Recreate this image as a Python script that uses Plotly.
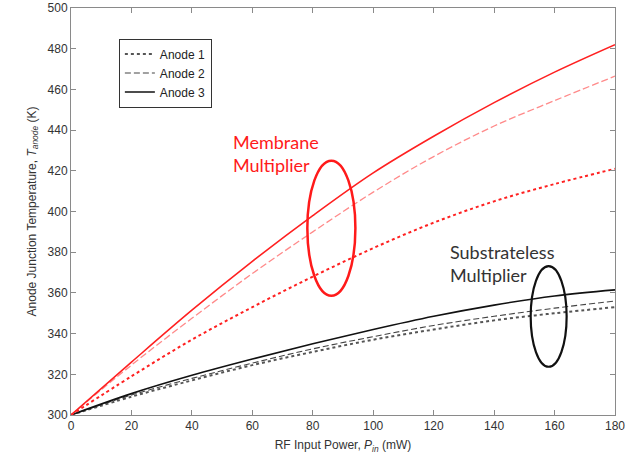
import plotly.graph_objects as go

power_mw = [0, 20, 40, 60, 80, 100, 120, 140, 160, 180]

# Membrane multiplier (red)
membrane_anode1 = [300, 319, 337, 353, 368, 382, 394.5, 405, 413.5, 421]
membrane_anode2 = [300, 324.5, 347.5, 369.5, 390, 409.5, 427, 442, 454.5, 466.5]
membrane_anode3 = [300, 326, 351.5, 375.5, 398, 419, 437, 453.5, 468.5, 482]

# Substrateless multiplier (black)
substrateless_anode1 = [300, 309, 317, 324.5, 331, 337, 342, 346.5, 350, 353]
substrateless_anode2 = [300, 309.8, 318, 325.5, 332.5, 338.5, 344, 348.5, 352.5, 356]
substrateless_anode3 = [300, 310.5, 319.5, 327.5, 335, 342, 348.5, 354, 358.5, 361.5]

legend_names = ["Anode 1", "Anode 2", "Anode 3"]
x_ticks = [0, 20, 40, 60, 80, 100, 120, 140, 160, 180]
y_ticks = [300, 320, 340, 360, 380, 400, 420, 440, 460, 480, 500]

# Ellipse annotations (data coordinates)
membrane_ellipse = dict(x0=78.2, x1=94.1, y0=358.6, y1=425.0)
substrateless_ellipse = dict(x0=152.1, x1=164.0, y0=323.7, y1=373.2)

fig = go.Figure()

# Black (substrateless) curves carry the legend
fig.add_trace(go.Scatter(x=power_mw, y=substrateless_anode1, mode="lines", name=legend_names[0],
                         line=dict(color="#555555", width=2, dash="dot", shape="spline")))
fig.add_trace(go.Scatter(x=power_mw, y=substrateless_anode2, mode="lines", name=legend_names[1],
                         line=dict(color="#444444", width=1.1, dash="6px,3px", shape="spline")))
fig.add_trace(go.Scatter(x=power_mw, y=substrateless_anode3, mode="lines", name=legend_names[2],
                         line=dict(color="#111111", width=1.6, shape="spline")))

# Red (membrane) curves
fig.add_trace(go.Scatter(x=power_mw, y=membrane_anode1, mode="lines", showlegend=False,
                         line=dict(color="#ff2020", width=2, dash="dot", shape="spline")))
fig.add_trace(go.Scatter(x=power_mw, y=membrane_anode2, mode="lines", showlegend=False,
                         line=dict(color="#ff8a8a", width=1.3, dash="7px,3px", shape="spline")))
fig.add_trace(go.Scatter(x=power_mw, y=membrane_anode3, mode="lines", showlegend=False,
                         line=dict(color="#ff2020", width=1.6, shape="spline")))

fig.add_shape(type="circle", xref="x", yref="y", **membrane_ellipse,
              line=dict(color="#ff1a1a", width=2.5))
fig.add_shape(type="circle", xref="x", yref="y", **substrateless_ellipse,
              line=dict(color="#111111", width=2.2))

fig.add_annotation(x=53.0, y=440.5, xref="x", yref="y", xanchor="left", yanchor="top",
                   text="Membrane<br>Multiplier", showarrow=False, align="left",
                   font=dict(family="Lato", size=18, color="#ff1a1a"))
fig.add_annotation(x=124.8, y=386.5, xref="x", yref="y", xanchor="left", yanchor="top",
                   text="Substrateless<br>Multiplier", showarrow=False, align="left",
                   font=dict(family="Lato", size=18, color="#333333"))

axis_common = dict(showgrid=False, zeroline=False, showline=True, linecolor="#8a8a8a", linewidth=1,
                   mirror="ticks", ticks="inside", ticklen=5, tickcolor="#8a8a8a", automargin=False,
                   tickfont=dict(family="Liberation Sans, Arial", size=12, color="#333333"))

fig.update_xaxes(range=[0, 180], tickvals=x_ticks,
                 title=dict(text="RF Input Power, <i>P</i><sub><i>in</i></sub> (mW)",
                            font=dict(family="Liberation Sans, Arial", size=12, color="#333333"),
                            standoff=8),
                 **axis_common)
fig.update_yaxes(range=[300, 500], tickvals=y_ticks,
                 title=dict(text="Anode Junction Temperature, <i>T</i><sub><i>anode</i></sub> (K)",
                            font=dict(family="Liberation Sans, Arial", size=12, color="#333333"),
                            standoff=8),
                 **axis_common)

fig.update_layout(
    width=644, height=464,
    margin=dict(l=71, r=29, t=8, b=49, autoexpand=False),
    paper_bgcolor="white", plot_bgcolor="white",
    showlegend=True,
    legend=dict(x=0.088, y=0.925, xanchor="left", yanchor="top",
                bgcolor="white", bordercolor="#333333", borderwidth=1,
                font=dict(family="Liberation Sans, Arial", size=12, color="#222222"),
                itemwidth=30, tracegroupgap=0),
)

fig.write_html("out.html", config={"displayModeBar": False},
               post_script="document.body.style.margin='0';")
